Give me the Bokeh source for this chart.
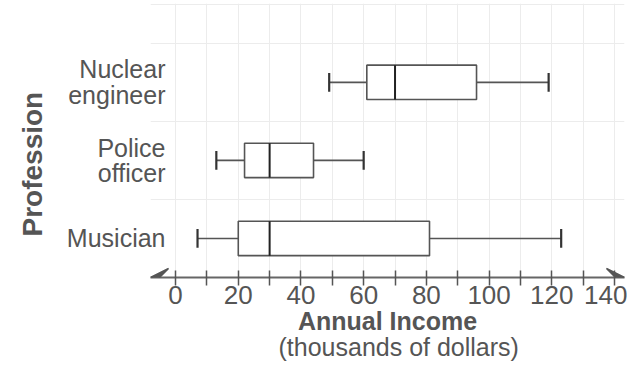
from bokeh.plotting import figure
from bokeh.models import (Range1d, FixedTicker, Title, Arrow, VeeHead, ColumnDataSource)
from bokeh.transform import dodge
from bokeh.embed import file_html
from bokeh.resources import INLINE

# ---- data ----
categories = ["Musician", "Police officer", "Nuclear engineer"]
category_labels = ["Musician", "Police\nofficer", "Nuclear\nengineer"]
positions = [1, 2, 3]
mins = [7, 13, 49]
q1 = [20, 22, 61]
medians = [30, 30, 70]
q3 = [81, 44, 96]
maxs = [123, 60, 119]
x_ticks = list(range(0, 150, 10))
x_tick_labels = {t: (str(t) if t % 20 == 0 else "") for t in x_ticks}

FONT = "Liberation Sans"
TXT = "#555555"
LINE = "#555555"

p = figure(width=627, height=365, output_backend="svg", toolbar_location=None,
           x_range=Range1d(-8.0, 143.2), y_range=Range1d(0.5, 4.01),
           min_border_left=150, min_border_right=3, min_border_top=3,
           min_border_bottom=88)
p.outline_line_color = None
p.background_fill_color = "white"

# grid (graph-paper look)
p.xgrid.ticker = FixedTicker(ticks=x_ticks)
p.xgrid.grid_line_color = "#ececec"
p.xgrid.grid_line_width = 1
p.xgrid.bounds = (0, 140)
p.ygrid.ticker = FixedTicker(ticks=[1.5, 2.5, 3.5, 4.0])
p.ygrid.grid_line_color = "#ececec"
p.ygrid.bounds = (0, 140)

src = ColumnDataSource(dict(pos=positions, mn=mins, q1=q1, med=medians, q3=q3, mx=maxs))
bh = 0.44
cap = 0.24
# whiskers
p.segment(x0="mn", y0="pos", x1="q1", y1="pos", source=src, line_color=LINE, line_width=1.6)
p.segment(x0="q3", y0="pos", x1="mx", y1="pos", source=src, line_color=LINE, line_width=1.6)
# caps
p.segment(x0="mn", y0=dodge("pos", -cap / 2), x1="mn", y1=dodge("pos", cap / 2),
          source=src, line_color="#333333", line_width=2.2)
p.segment(x0="mx", y0=dodge("pos", -cap / 2), x1="mx", y1=dodge("pos", cap / 2),
          source=src, line_color="#333333", line_width=2.2)
# boxes
p.hbar(y="pos", left="q1", right="q3", height=bh, source=src,
       fill_color="white", line_color=LINE, line_width=1.6)
# medians
p.segment(x0="med", y0=dodge("pos", -bh / 2), x1="med", y1=dodge("pos", bh / 2),
          source=src, line_color="#222222", line_width=2)

# x axis
xa = p.xaxis[0]
xa.ticker = FixedTicker(ticks=x_ticks)
xa.major_label_overrides = x_tick_labels
xa.major_label_text_font = FONT
xa.major_label_text_font_size = "26px"
xa.major_label_text_color = TXT
xa.major_label_standoff = 0
xa.axis_line_color = "#666666"
xa.axis_line_width = 2
xa.major_tick_line_color = "#555555"
xa.major_tick_line_width = 1.5
xa.major_tick_in = 7
xa.major_tick_out = 8
xa.minor_tick_line_color = None
xa.axis_label = "Annual Income"
xa.axis_label_text_font = FONT
xa.axis_label_text_font_style = "bold"
xa.axis_label_text_font_size = "25px"
xa.axis_label_text_color = TXT
xa.axis_label_standoff = 0

sub = Title(text="(thousands of dollars)", align="left", offset=128, standoff=-10,
            vertical_align="top",
            text_font=FONT, text_font_size="25px", text_font_style="normal",
            text_color=TXT)
p.add_layout(sub, "below")

# y axis
ya = p.yaxis[0]
ya.ticker = FixedTicker(ticks=positions)
ya.major_label_overrides = {pos: lab for pos, lab in zip(positions, category_labels)}
ya.major_label_text_font = FONT
ya.major_label_text_font_size = "25px"
ya.major_label_text_color = TXT
ya.major_label_text_line_height = 0.92
ya.major_label_standoff = -21
ya.axis_line_color = None
ya.major_tick_line_color = None
ya.minor_tick_line_color = None

ytitle = Title(text="Profession", align="left", offset=41, standoff=28,
               vertical_align="top",
               text_font=FONT, text_font_size="28px", text_font_style="bold",
               text_color=TXT)
p.add_layout(ytitle, "left")

# arrow heads on the number line
p.add_layout(Arrow(end=VeeHead(size=18, fill_color="#555555", line_color="#555555", line_width=1.5),
                   x_start=0, y_start=0.5, x_end=-8.0, y_end=0.5, line_alpha=0))
p.add_layout(Arrow(end=VeeHead(size=18, fill_color="#555555", line_color="#555555", line_width=1.5),
                   x_start=140, y_start=0.5, x_end=143.2, y_end=0.5, line_alpha=0))

open("out.html", "w").write(file_html(p, INLINE))
